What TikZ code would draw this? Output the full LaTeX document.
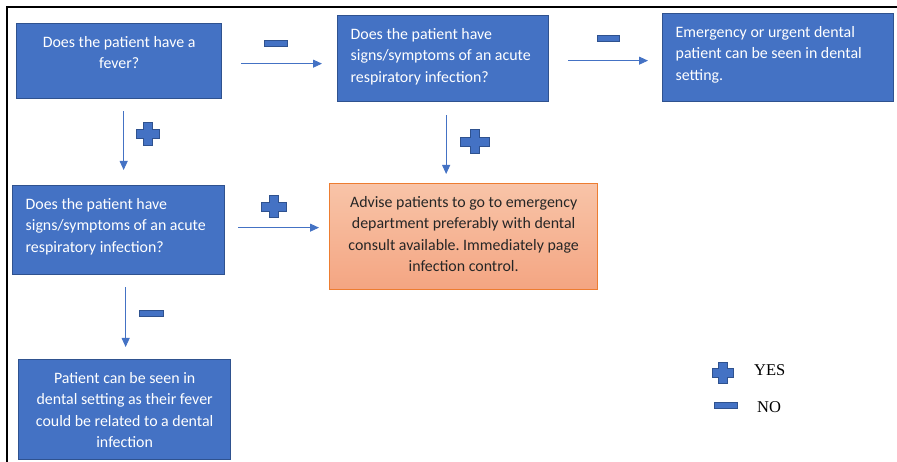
\documentclass[tikz,border=0pt]{standalone}
\usepackage{fontspec}
\usepackage{xcolor}
\usepackage{tikz}
\usetikzlibrary{arrows.meta, calc}
\setmainfont{Carlito}
\newfontfamily\legendfont{Liberation Serif}
\frenchspacing
\definecolor{boxblue}{HTML}{4472C4}
\definecolor{boxedge}{HTML}{2F528F}
\definecolor{urgentedge}{HTML}{ED7D31}
\definecolor{urgenttop}{HTML}{F8C4A8}
\definecolor{urgentbottom}{HTML}{F4A582}
\definecolor{urgenttext}{HTML}{262626}
% box text: width, height, alignment, lines
\newcommand{\boxtext}[4]{\parbox[c][#2pt][t]{\dimexpr#1pt-26pt\relax}{\vspace*{8.5pt}#3\strut#4}}

\begin{document}
\begin{tikzpicture}[
  x=1pt, y=-1pt,
  box/.style={rectangle, draw=boxedge, line width=1.3pt, fill=boxblue, text=white,
              anchor=north west, inner xsep=13pt, inner ysep=0pt,
              font=\fontsize{15.9}{21.5}\selectfont},
  urgent/.style={box, draw=urgentedge, top color=urgenttop, bottom color=urgentbottom,
                 text=urgenttext},
  arrow/.style={-{Triangle[length=9pt,width=8pt]}, draw=boxblue, line width=0.9pt},
  signmark/.style={fill=boxblue, draw=boxedge, line width=1pt},
  legend/.style={anchor=base west, inner sep=0pt, font=\legendfont\fontsize{16.5}{20}\selectfont},
  pics/plusmark/.style args={#1/#2}{code={
    \path[signmark] (-4.5,-#2/2) -- (4.5,-#2/2) -- (4.5,-4.5) -- (#1/2,-4.5) -- (#1/2,4.5)
      -- (4.5,4.5) -- (4.5,#2/2) -- (-4.5,#2/2) -- (-4.5,4.5) -- (-#1/2,4.5)
      -- (-#1/2,-4.5) -- (-4.5,-4.5) -- cycle;
  }},
  pics/minusmark/.style={code={
    \path[signmark] (-#1/2,-3) rectangle (#1/2,3);
  }}
]
  \useasboundingbox (0,0) rectangle (897,462);
  \draw[line width=2pt] (7,462) -- (7,7) -- (897,7);

  % boxes
  \node[box] (fever) at (16,23)
    {\boxtext{205}{75}{\centering}{Does the patient have a\\fever?}};
  \node[box] (symtop) at (337,15)
    {\boxtext{211}{86}{\raggedright}{Does the patient have\\signs/symptoms of an acute\\respiratory infection?}};
  \node[box] (seen) at (662,13)
    {\boxtext{231}{88}{\raggedright}{Emergency or urgent dental\\patient can be seen in dental\\setting.}};
  \node[box] (symleft) at (12,185)
    {\boxtext{212}{89}{\raggedright}{Does the patient have\\signs/symptoms of an acute\\respiratory infection?}};
  \node[urgent] (advise) at (329,183)
    {\boxtext{268}{106}{\centering}{Advise patients to go to emergency\\department preferably with dental\\consult available. Immediately page\\infection control.}};
  \node[box] (dentalinf) at (18,359)
    {\boxtext{212}{100}{\centering}{Patient can be seen in\\dental setting as their fever\\could be related to a dental\\infection}};

  % arrows
  \draw[arrow, shorten <=19pt, shorten >=15pt] ($(fever.east)+(0,2.5)$) -- ($(fever.east -| symtop.west)+(0,2.5)$);
  \draw[arrow, shorten <=19pt, shorten >=14pt] ($(symtop.east)+(0,2)$) -- ($(symtop.east -| seen.west)+(0,2)$);
  \draw[arrow, shorten <=13pt, shorten >=10pt] ($(symleft.east)+(0,-2.5)$) -- ($(symleft.east -| advise.west)+(0,-2.5)$);
  \draw[arrow, shorten <=12pt, shorten >=15pt] ($(fever.south)+(4.5,0)$) -- ($(fever.south |- symleft.north)+(4.5,0)$);
  \draw[arrow, shorten <=13pt, shorten >=9pt] ($(symtop.south)+(3,0)$) -- ($(symtop.south |- advise.north)+(3,0)$);
  \draw[arrow, shorten <=12pt, shorten >=12pt] ($(symleft.south)+(7,0)$) -- ($(symleft.south |- dentalinf.north)+(7,0)$);

  % signs
  \pic at (275.5,44) {minusmark=23};
  \pic at (608,39) {minusmark=22};
  \pic at (147.5,134.5) {plusmark=23/23};
  \pic at (475,142) {plusmark=29/24};
  \pic at (273.5,207) {plusmark=25/22};
  \pic at (151,314) {minusmark=24};

  % legend
  \pic at (722.5,372.5) {plusmark=21/21};
  \pic at (725.5,405.5) {minusmark=23};
  \node[legend] (yes) at (754,375) {YES};
  \node[legend] (no) at (757,412) {NO};

\end{tikzpicture}
\end{document}
